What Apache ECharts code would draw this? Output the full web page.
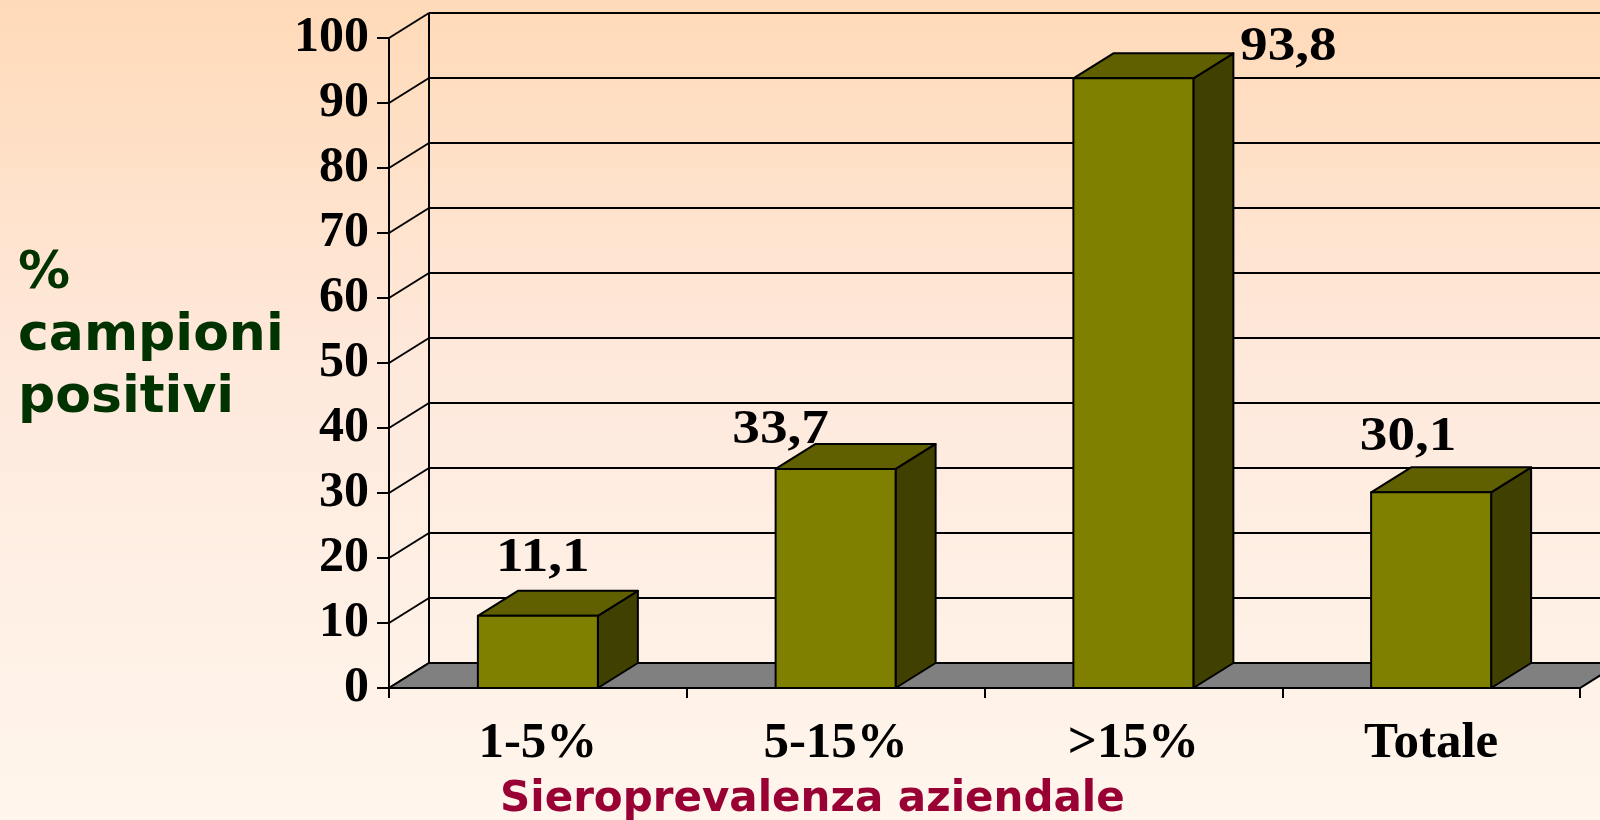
<!DOCTYPE html>
<html>
<head>
<meta charset="utf-8">
<title>Sieroprevalenza aziendale</title>
<script src="https://cdn.jsdelivr.net/npm/echarts@6/dist/echarts.min.js"></script>
<style>
  html, body { margin: 0; padding: 0; }
  #chart { width: 1600px; height: 820px; }
</style>
</head>
<body>
<div id="chart"></div>
<script>
// dati
var categories = ['1-5%', '5-15%', '>15%', 'Totale'];
var positivi = [11.1, 33.7, 93.8, 30.1];
var yTicks = [0, 10, 20, 30, 40, 50, 60, 70, 80, 90, 100];

// spostamento delle etichette rispetto al centro della faccia superiore
var labelShift = [[5, -57], [-55, -38], [155, -31], [-23, -55]];

// profondita' 3D (pixel)
var DX = 40, DY = -25;

var serif = '"Liberation Serif", "Times New Roman", serif';
var sans = '"DejaVu Sans", Verdana, sans-serif';

function fmt(v) {
    return v.toFixed(1).replace('.', ',');
}

var myChart = echarts.init(document.getElementById('chart'));

var option = {
    backgroundColor: {
        type: 'linear', x: 0, y: 0, x2: 0, y2: 1,
        colorStops: [
            {offset: 0, color: '#FFDAB8'},
            {offset: 0.45, color: '#FEE9DC'},
            {offset: 1, color: '#FFF6ED'}
        ]
    },
    animation: false,
    grid: {left: 389, right: 20, top: 38, bottom: 132},
    xAxis: {
        type: 'category',
        data: categories,
        axisLine: {show: false},
        axisTick: {show: true, length: 10, lineStyle: {color: '#000', width: 2}},
        axisLabel: {
            margin: 30,
            color: '#000',
            fontFamily: serif,
            fontWeight: 'bold',
            fontSize: 51
        }
    },
    yAxis: {
        type: 'value',
        min: 0,
        max: 100,
        interval: 10,
        axisLine: {show: true, lineStyle: {color: '#000', width: 2}},
        axisTick: {show: true, length: 12, lineStyle: {color: '#000', width: 2}},
        splitLine: {show: false},
        axisLabel: {
            margin: 20,
            color: '#000',
            fontFamily: serif,
            fontWeight: 'bold',
            fontSize: 50
        }
    },
    graphic: [
        {
            type: 'text', left: 18, top: 243,
            style: {
                text: '%\ncampioni\npositivi',
                fill: '#003300',
                font: 'bold 52px ' + sans,
                lineHeight: 62
            }
        },
        {
            type: 'text', left: 500, top: 779,
            style: {
                text: 'Sieroprevalenza aziendale',
                fill: '#990033',
                font: 'bold 42px ' + sans
            }
        }
    ],
    series: [
        {
            // parete di fondo: griglia e diagonali
            type: 'custom',
            z: 1,
            silent: true,
            data: yTicks.map(function (t) { return [0, t]; }),
            renderItem: function (params, api) {
                var cs = params.coordSys;
                var y = api.coord([0, api.value(1)])[1];
                var line = {stroke: '#000', lineWidth: 2};
                var children = [
                    {type: 'line', shape: {x1: cs.x, y1: y, x2: cs.x + DX, y2: y + DY}, style: line},
                    {type: 'line', shape: {x1: cs.x + DX, y1: y + DY, x2: cs.x + cs.width + DX, y2: y + DY}, style: line}
                ];
                if (params.dataIndex === 0) {
                    var yTop = api.coord([0, yTicks[yTicks.length - 1]])[1];
                    children.push({type: 'line', shape: {x1: cs.x + DX, y1: y + DY, x2: cs.x + DX, y2: yTop + DY}, style: line});
                }
                return {type: 'group', children: children};
            }
        },
        {
            // pavimento grigio
            type: 'custom',
            z: 2,
            silent: true,
            data: [[0, 0]],
            renderItem: function (params, api) {
                var cs = params.coordSys;
                var y = api.coord([0, 0])[1];
                return {
                    type: 'polygon',
                    shape: {points: [
                        [cs.x, y], [cs.x + cs.width, y],
                        [cs.x + cs.width + DX, y + DY], [cs.x + DX, y + DY]
                    ]},
                    style: {fill: '#808080', stroke: '#000', lineWidth: 2}
                };
            }
        },
        {
            // barre 3D
            type: 'custom',
            z: 3,
            data: positivi.map(function (v, i) { return [i, v]; }),
            renderItem: function (params, api) {
                var i = api.value(0);
                var top = api.coord([i, api.value(1)]);
                var bottom = api.coord([i, 0]);
                var w = api.size([1, 0])[0] * 0.403;
                var l = top[0] - w / 2, r = top[0] + w / 2;
                var t = top[1], b = bottom[1];
                var edge = {stroke: '#000', lineWidth: 2, lineJoin: 'round'};
                var sh = labelShift[params.dataIndex];
                return {
                    type: 'group',
                    children: [
                        {type: 'polygon', shape: {points: [[r, t], [r + DX, t + DY], [r + DX, b + DY], [r, b]]},
                            style: Object.assign({fill: '#404000'}, edge)},
                        {type: 'polygon', shape: {points: [[l, t], [r, t], [r + DX, t + DY], [l + DX, t + DY]]},
                            style: Object.assign({fill: '#606000'}, edge)},
                        {type: 'rect', shape: {x: l, y: t, width: w, height: b - t},
                            style: Object.assign({fill: '#808000'}, edge)},
                        {type: 'text', x: top[0] + sh[0], y: t + sh[1], z2: 10, scaleX: 1.15,
                            style: {
                                text: fmt(api.value(1)),
                                align: 'center', verticalAlign: 'middle',
                                fill: '#000',
                                font: 'bold 48px ' + serif
                            }}
                    ]
                };
            }
        }
    ]
};

myChart.setOption(option);
</script>
</body>
</html>
